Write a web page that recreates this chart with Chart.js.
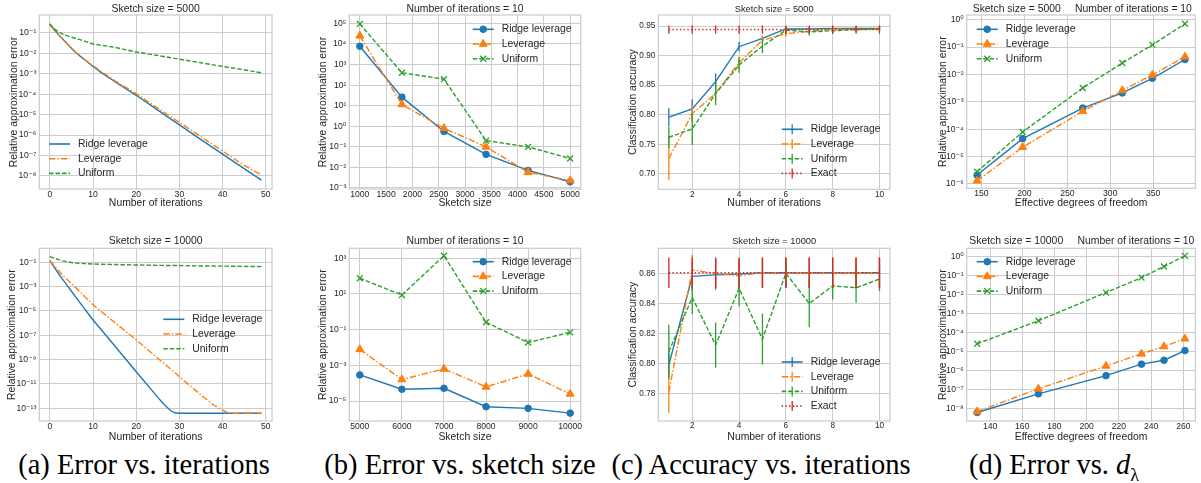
<!DOCTYPE html>
<html>
<head>
<meta charset="UTF-8">
<title>Sketching: error and accuracy</title>
<script src="https://cdn.jsdelivr.net/npm/chart.js"></script>
<style>
  body { margin: 0; background: #fff; width: 1201px; height: 483px; overflow: hidden; position: relative; }
  canvas { position: absolute; }
  .cap { position: absolute; top: 449px; line-height: 32px; font-family: "Liberation Serif", "Times New Roman", serif;
         font-size: 28.5px; color: #000; white-space: nowrap; transform: translateX(-50%); }
  .cap sub { font-size: 18px; }
</style>
</head>
<body>
<div class="cap" style="left:144px">(a) Error vs. iterations</div>
<div class="cap" style="left:460px">(b) Error vs. sketch size</div>
<div class="cap" style="left:761px">(c) Accuracy vs. iterations</div>
<div class="cap" style="left:1054px">(d) Error vs. <i>d</i><sub>λ</sub></div>

<script>
// ---------- data ----------

// (a) relative error vs iteration
const itersA5000 = [0, 1, 2, 3, 4, 5, 6, 7, 8, 10, 12, 15, 20, 25, 30, 35, 40, 45, 49];
const ridgeA5000 = [2.8e-1, 1.45e-1, 8.3e-2, 5.0e-2, 3.0e-2, 1.8e-2, 1.12e-2, 7.4e-3, 5.0e-3, 2.3e-3, 1.12e-3, 4.2e-4, 8.9e-5, 1.66e-5, 3.2e-6, 6.0e-7, 1.17e-7, 2.3e-8, 6.3e-9];
const leverA5000 = [2.5e-1, 1.38e-1, 7.9e-2, 4.8e-2, 2.95e-2, 1.8e-2, 1.15e-2, 7.6e-3, 5.2e-3, 2.5e-3, 1.26e-3, 4.7e-4, 1.07e-4, 2.1e-5, 4.2e-6, 8.3e-7, 1.66e-7, 3.3e-8, 1.12e-8];
const unifA5000  = [2.8e-1, 1.58e-1, 1.12e-1, 8.7e-2, 7.2e-2, 6.2e-2, 5.4e-2, 4.7e-2, 4.0e-2, 2.9e-2, 2.5e-2, 2.0e-2, 1.17e-2, 7.9e-3, 5.2e-3, 3.5e-3, 2.3e-3, 1.58e-3, 1.12e-3];

const itersA10000 = [0, 1, 2, 3, 4, 5, 6, 8, 10, 12, 15, 20, 25, 26, 27, 28, 29, 30, 35, 38, 40, 41, 42, 43, 45, 49];
const ridgeA10000 = [1.38e-1, 3.98e-2, 1.2e-2, 3.8e-3, 1.26e-3, 4.2e-4, 1.38e-4, 1.58e-5, 1.82e-6, 2.57e-7, 1.38e-8, 1.02e-10, 7.9e-13, 3.2e-13, 1.32e-13, 6.3e-14, 4.3e-14, 3.9e-14, 3.9e-14, 3.9e-14, 3.9e-14, 3.9e-14, 3.9e-14, 3.9e-14, 3.9e-14, 3.9e-14];
const leverA10000 = [1.38e-1, 5.2e-2, 2.1e-2, 8.7e-3, 3.8e-3, 1.74e-3, 8.3e-4, 1.58e-4, 3.2e-5, 8.3e-6, 1.15e-6, 4.2e-8, 1.32e-9, 6.6e-10, 3.3e-10, 1.66e-10, 8.3e-11, 4.0e-11, 1.26e-12, 1.78e-13, 7.1e-14, 4.8e-14, 4.0e-14, 3.9e-14, 3.9e-14, 3.9e-14];
const unifA10000  = [2.95e-1, 2.19e-1, 1.66e-1, 1.32e-1, 1.1e-1, 9.5e-2, 8.7e-2, 7.8e-2, 7.2e-2, 6.9e-2, 6.5e-2, 6.0e-2, 5.6e-2, 5.6e-2, 5.5e-2, 5.5e-2, 5.4e-2, 5.4e-2, 5.0e-2, 4.9e-2, 4.8e-2, 4.8e-2, 4.7e-2, 4.7e-2, 4.6e-2, 4.4e-2];

// (b) relative error vs sketch size, 10 iterations
const sizesB1 = [1000, 1800, 2600, 3400, 4200, 5000];
const ridgeB1 = [7.8e3, 26, 0.56, 0.043, 7.1e-3, 2.0e-3];
const leverB1 = [2.5e4, 11.5, 0.8, 0.1, 5.8e-3, 2.3e-3];
const unifB1  = [9.5e4, 400, 195, 0.2, 0.1, 0.027];

const sizesB2 = [5000, 6000, 7000, 8000, 9000, 10000];
const ridgeB2 = [2.9e-4, 4.6e-5, 5.2e-5, 4.8e-6, 3.9e-6, 2.1e-6];
const leverB2 = [7.9e-3, 1.6e-4, 6.3e-4, 6.2e-5, 3.3e-4, 2.5e-5];
const unifB2  = [76, 8.7, 1400, 0.26, 0.019, 0.071];

// (c) classification accuracy vs iteration (mean and error bar half-length)
const itersC = [1, 2, 3, 4, 5, 6, 7, 8, 9, 10];
const ridgeC1 = [0.796, 0.810, 0.856, 0.915, 0.929, 0.945, 0.945, 0.946, 0.946, 0.946];
const ridgeC1Err = [0.015, 0.016, 0.014, 0.008, 0.004, 0.003, 0.003, 0.003, 0.003, 0.003];
const leverC1 = [0.726, 0.802, 0.836, 0.888, 0.926, 0.937, 0.941, 0.945, 0.944, 0.945];
const leverC1Err = [0.036, 0.015, 0.012, 0.010, 0.008, 0.005, 0.004, 0.003, 0.003, 0.003];
const unifC1 = [0.762, 0.776, 0.836, 0.884, 0.916, 0.943, 0.940, 0.942, 0.944, 0.945];
const unifC1Err = [0.018, 0.027, 0.020, 0.013, 0.012, 0.006, 0.006, 0.005, 0.004, 0.004];
const exactC1 = [0.944, 0.944, 0.944, 0.944, 0.944, 0.944, 0.944, 0.944, 0.944, 0.944];
const exactC1Err = [0.007, 0.007, 0.007, 0.007, 0.007, 0.007, 0.007, 0.007, 0.007, 0.007];

const ridgeC2 = [0.799, 0.858, 0.859, 0.8596, 0.8604, 0.8604, 0.8604, 0.8604, 0.8604, 0.8604];
const ridgeC2Err = [0.008, 0.010, 0.010, 0.010, 0.010, 0.010, 0.010, 0.010, 0.010, 0.010];
const leverC2 = [0.781, 0.8622, 0.860, 0.8584, 0.8604, 0.8604, 0.8604, 0.8604, 0.8604, 0.8604];
const leverC2Err = [0.014, 0.010, 0.010, 0.010, 0.010, 0.010, 0.010, 0.010, 0.010, 0.010];
const unifC2 = [0.8078, 0.8438, 0.8122, 0.850, 0.8162, 0.860, 0.840, 0.8516, 0.8504, 0.8562];
const unifC2Err = [0.018, 0.011, 0.015, 0.012, 0.017, 0.009, 0.016, 0.009, 0.010, 0.008];
const exactC2 = [0.8604, 0.8604, 0.8604, 0.8604, 0.8604, 0.8604, 0.8604, 0.8604, 0.8604, 0.8604];
const exactC2Err = [0.0102, 0.0102, 0.0102, 0.0102, 0.0102, 0.0102, 0.0102, 0.0102, 0.0102, 0.0102];

// (d) relative error vs effective degrees of freedom
const dofD1 = [145, 198, 268, 314, 349, 387];
const ridgeD1 = [2.1e-6, 4.5e-5, 5.9e-4, 2.1e-3, 7.2e-3, 3.5e-2];
const leverD1 = [1.3e-6, 2.2e-5, 4.5e-4, 2.6e-3, 9.6e-3, 4.4e-2];
const unifD1  = [2.8e-6, 7.9e-5, 3.2e-3, 2.6e-2, 1.2e-1, 7.1e-1];

const dofD2 = [132, 170, 212, 234, 248, 261];
const ridgeD2 = [5.9e-9, 5.7e-8, 5.2e-7, 2.1e-6, 3.4e-6, 1.1e-5];
const leverD2 = [6.6e-9, 1.05e-7, 1.7e-6, 7.4e-6, 1.8e-5, 4.6e-5];
const unifD2  = [2.5e-5, 4.1e-4, 1.26e-2, 7.8e-2, 3.0e-1, 1.1];

// tick values
const ticksIterA = [0, 10, 20, 30, 40, 50];
const ticksErrA1 = [1e-1, 1e-2, 1e-3, 1e-4, 1e-5, 1e-6, 1e-7, 1e-8];
const ticksErrA2 = [1e-1, 1e-3, 1e-5, 1e-7, 1e-9, 1e-11, 1e-13];
const ticksSizeB1 = [1000, 1500, 2000, 2500, 3000, 3500, 4000, 4500, 5000];
const ticksErrB1 = [1e5, 1e4, 1e3, 1e2, 1e1, 1e0, 1e-1, 1e-2, 1e-3];
const ticksSizeB2 = [5000, 6000, 7000, 8000, 9000, 10000];
const ticksErrB2 = [1e3, 1e1, 1e-1, 1e-3, 1e-5];
const ticksIterC = [2, 4, 6, 8, 10];
const ticksAccC1 = [0.70, 0.75, 0.80, 0.85, 0.90, 0.95];
const ticksAccC2 = [0.78, 0.80, 0.82, 0.84, 0.86];
const ticksDofD1 = [150, 200, 250, 300, 350];
const ticksErrD1 = [1e0, 1e-1, 1e-2, 1e-3, 1e-4, 1e-5, 1e-6];
const ticksDofD2 = [140, 160, 180, 200, 220, 240, 260];
const ticksErrD2 = [1e0, 1e-1, 1e-2, 1e-3, 1e-4, 1e-5, 1e-6, 1e-7, 1e-8];

// ---------- styling ----------
const FONT = '"Liberation Sans", Arial, "DejaVu Sans", sans-serif';
const INK = '#262626';
const GRID = '#cccccc';
const STYLE = {
  ridge: { label: 'Ridge leverage', color: '#1f77b4', dash: [], marker: 'circle', r: 3.3 },
  lever: { label: 'Leverage', color: '#ff7f0e', dash: [6.5, 2, 1.5, 2], marker: 'triangle', r: 4.6 },
  unif:  { label: 'Uniform', color: '#2ca02c', dash: [4.5, 2], marker: 'crossRot', r: 4.2 },
  exact: { label: 'Exact', color: '#d62728', dash: [1.4, 2.3], marker: 'circle', r: 0 }
};
Chart.defaults.font.family = FONT;
Chart.defaults.color = INK;

const COLS = [[0, 300], [300, 600], [600, 900], [900, 1201]];
const ROWS = [[0, 215], [215, 445]];

const SUP = { '-': '\u207b', '0': '\u2070', '1': '\u00b9', '2': '\u00b2', '3': '\u00b3',
  '4': '\u2074', '5': '\u2075', '6': '\u2076', '7': '\u2077', '8': '\u2078', '9': '\u2079' };
function pow10Label(v) {
  const e = String(Math.round(Math.log10(v)));
  return '10' + e.split('').map(c => SUP[c]).join('');
}

function series(kind, xs, ys, markers, errs, idx) {
  const s = STYLE[kind];
  return {
    label: s.label,
    data: xs.map((x, i) => ({ x: x, y: ys[i] })),
    borderColor: s.color,
    backgroundColor: s.color,
    borderWidth: 1.4,
    borderDash: s.dash,
    pointStyle: s.marker,
    pointRadius: markers ? s.r : 0,
    pointHoverRadius: 0,
    pointBorderWidth: kind === 'unif' ? 1.3 : 1,
    pointBackgroundColor: s.color,
    pointBorderColor: s.color,
    tension: 0,
    order: -idx,
    errors: errs
  };
}

// small marker painter for the legend
function drawMarker(ctx, style, r, x, y, color) {
  ctx.save();
  ctx.fillStyle = color; ctx.strokeStyle = color; ctx.setLineDash([]);
  ctx.beginPath();
  if (style === 'circle') {
    ctx.arc(x, y, r, 0, Math.PI * 2); ctx.fill(); ctx.lineWidth = 1; ctx.stroke();
  } else if (style === 'triangle') {
    for (let k = 0; k < 3; k++) {
      const a = k * 2 * Math.PI / 3;
      const px = x + Math.sin(a) * r, py = y - Math.cos(a) * r;
      if (k === 0) ctx.moveTo(px, py); else ctx.lineTo(px, py);
    }
    ctx.closePath(); ctx.fill(); ctx.lineWidth = 1; ctx.stroke();
  } else if (style === 'crossRot') {
    const d = Math.cos(Math.PI / 4) * r;
    ctx.moveTo(x - d, y - d); ctx.lineTo(x + d, y + d);
    ctx.moveTo(x + d, y - d); ctx.lineTo(x - d, y + d);
    ctx.lineWidth = 1.3; ctx.stroke();
  }
  ctx.restore();
}

// frame, titles and in-axes legend
const panelDecor = {
  id: 'panelDecor',
  beforeDatasetsDraw(chart, args, o) {
    const a = chart.chartArea, ctx = chart.ctx;
    ctx.save();
    ctx.strokeStyle = GRID; ctx.lineWidth = 1.25;
    ctx.strokeRect(a.left, a.top, a.right - a.left, a.bottom - a.top);
    ctx.restore();
  },
  afterDraw(chart, args, o) {
    const a = chart.chartArea, ctx = chart.ctx;
    ctx.save();
    ctx.fillStyle = INK;
    ctx.textBaseline = 'middle';
    ctx.font = o.titleSize + 'px ' + FONT;
    if (o.title) { ctx.textAlign = 'center'; ctx.fillText(o.title, (a.left + a.right) / 2, o.titleY); }
    if (o.titleLeft) { ctx.textAlign = 'left'; ctx.fillText(o.titleLeft, a.left + o.leftInset, o.titleY); }
    if (o.titleRight) { ctx.textAlign = 'right'; ctx.fillText(o.titleRight, a.right - o.rightInset, o.titleY); }

    const lg = o.legend;
    ctx.font = '10.4px ' + FONT;
    ctx.textAlign = 'left';
    chart.data.datasets.forEach((ds, i) => {
      const y = lg.y + i * 14.7;
      ctx.strokeStyle = ds.borderColor; ctx.lineWidth = 1.6;
      ctx.setLineDash(ds.borderDash);
      ctx.beginPath(); ctx.moveTo(lg.x, y); ctx.lineTo(lg.x + 21, y); ctx.stroke();
      ctx.setLineDash([]);
      if (lg.mode === 'marker') drawMarker(ctx, ds.pointStyle, ds.pointRadius, lg.x + 10.5, y, ds.borderColor);
      if (lg.mode === 'errorbar') {
        ctx.lineWidth = 1.3;
        ctx.beginPath(); ctx.moveTo(lg.x + 10.5, y - 5); ctx.lineTo(lg.x + 10.5, y + 5); ctx.stroke();
      }
      ctx.fillStyle = INK;
      ctx.fillText(ds.label, lg.x + 29, y);
    });
    ctx.restore();
  }
};

// vertical error bars drawn through the library's scales
const errorBars = {
  id: 'errorBars',
  afterDatasetDraw(chart, args) {
    const ds = chart.data.datasets[args.index];
    if (!ds.errors) return;
    const ctx = chart.ctx, xs = chart.scales.x, ys = chart.scales.y;
    ctx.save();
    ctx.strokeStyle = ds.borderColor; ctx.lineWidth = 1.3;
    ds.data.forEach((p, i) => {
      const px = xs.getPixelForValue(p.x);
      ctx.beginPath();
      ctx.moveTo(px, ys.getPixelForValue(p.y - ds.errors[i]));
      ctx.lineTo(px, ys.getPixelForValue(p.y + ds.errors[i]));
      ctx.stroke();
    });
    ctx.restore();
  }
};

function makePanel(p) {
  const [cx0, cx1] = COLS[p.col], [ry0, ry1] = ROWS[p.row];
  const W = cx1 - cx0, H = ry1 - ry0;
  const cv = document.createElement('canvas');
  cv.width = W; cv.height = H;
  cv.style.left = cx0 + 'px'; cv.style.top = ry0 + 'px';
  cv.style.width = W + 'px'; cv.style.height = H + 'px';
  document.body.appendChild(cv);

  const [L, T, R, B] = p.box;
  const yW = L - cx0;
  const xH = (p.xTitleY - ry0) + 6.24 - (B - ry0);
  const padBottom = H - (B - ry0) - xH;
  const tickFont = { size: p.tickSize || 8.6, lineHeight: 1 };
  const titleFont = { size: 10.4, lineHeight: 1.2 };

  new Chart(cv, {
    type: 'line',
    data: { datasets: p.datasets },
    plugins: [panelDecor, errorBars],
    options: {
      responsive: false,
      animation: false,
      events: [],
      layout: { padding: { left: 0, top: T - ry0, right: cx1 - R, bottom: padBottom } },
      scales: {
        x: {
          type: 'linear', position: 'bottom', min: p.xMin, max: p.xMax, bounds: 'data',
          afterBuildTicks: s => { s.ticks = p.xTicks.map(v => ({ value: v })); },
          afterFit: s => { s.height = xH; },
          ticks: { padding: 1, font: tickFont, color: INK, autoSkip: false, maxRotation: 0,
                   callback: v => String(v) },
          grid: { color: GRID, lineWidth: 1, drawTicks: false },
          border: { display: false },
          title: { display: true, text: p.xTitle, font: titleFont, color: INK, padding: { top: 0, bottom: 0 } }
        },
        y: {
          type: p.yLog ? 'logarithmic' : 'linear', position: 'left', min: p.yMin, max: p.yMax, bounds: 'data',
          afterBuildTicks: s => { s.ticks = p.yTicks.map(v => ({ value: v })); },
          afterFit: s => { s.width = yW; },
          ticks: { padding: 3, font: tickFont, color: INK, autoSkip: false,
                   callback: v => p.yLog ? pow10Label(v) : Number(v).toFixed(2) },
          grid: { color: GRID, lineWidth: 1, drawTicks: false },
          border: { display: false },
          title: { display: true, text: p.yTitle, font: titleFont, color: INK,
                   padding: { top: p.yTitleX - cx0 - 6.24, bottom: 0 } }
        }
      },
      plugins: {
        legend: { display: false },
        title: { display: false },
        tooltip: { enabled: false },
        panelDecor: Object.assign({ titleSize: 10.4, titleY: p.titleY - ry0, leftInset: 0, rightInset: 0 }, p.decor)
      }
    }
  });
}

const ERR = 'Relative approximation error';
const ACC = 'Classification accuracy';
const ITER = 'Number of iterations';
const DOF = 'Effective degrees of freedom';

// (a)
makePanel({
  col: 0, row: 0, box: [39.3, 15, 272, 189], yTitleX: 14, xTitleY: 203.3, titleY: 9,
  xTitle: ITER, yTitle: ERR, xMin: -2.45, xMax: 51.45, xTicks: ticksIterA,
  yLog: true, yMin: 2.3e-9, yMax: 0.76, yTicks: ticksErrA1,
  decor: { title: 'Sketch size = 5000', legend: { x: 49, y: 144, mode: 'line' } },
  datasets: [
    series('ridge', itersA5000, ridgeA5000, false, null, 0),
    series('lever', itersA5000, leverA5000, false, null, 1),
    series('unif', itersA5000, unifA5000, false, null, 2)
  ]
});
makePanel({
  col: 0, row: 1, box: [39.3, 248.3, 272, 421], yTitleX: 11.7, xTitleY: 437, titleY: 241,
  xTitle: ITER, yTitle: ERR, xMin: -2.45, xMax: 51.45, xTicks: ticksIterA,
  yLog: true, yMin: 9.1e-15, yMax: 1.41, yTicks: ticksErrA2,
  decor: { title: 'Sketch size = 10000', legend: { x: 163.3, y: 104.3, mode: 'line' } },
  datasets: [
    series('ridge', itersA10000, ridgeA10000, false, null, 0),
    series('lever', itersA10000, leverA10000, false, null, 1),
    series('unif', itersA10000, unifA10000, false, null, 2)
  ]
});

// (b)
makePanel({
  col: 1, row: 0, box: [349.3, 15, 580.7, 189], yTitleX: 323.3, xTitleY: 203.3, titleY: 9,
  xTitle: 'Sketch size', yTitle: ERR, xMin: 800, xMax: 5200, xTicks: ticksSizeB1,
  yLog: true, yMin: 8.9e-4, yMax: 2.57e5, yTicks: ticksErrB1,
  decor: { title: 'Number of iterations = 10', legend: { x: 172.7, y: 29.3, mode: 'marker' } },
  datasets: [
    series('ridge', sizesB1, ridgeB1, true, null, 0),
    series('lever', sizesB1, leverB1, true, null, 1),
    series('unif', sizesB1, unifB1, true, null, 2)
  ]
});
makePanel({
  col: 1, row: 1, box: [349.3, 248.3, 580.7, 421], yTitleX: 323.3, xTitleY: 437, titleY: 241,
  xTitle: 'Sketch size', yTitle: ERR, xMin: 4750, xMax: 10250, xTicks: ticksSizeB2,
  yLog: true, yMin: 7.6e-7, yMax: 3630, yTicks: ticksErrB2,
  decor: { title: 'Number of iterations = 10', legend: { x: 172.7, y: 46.7, mode: 'marker' } },
  datasets: [
    series('ridge', sizesB2, ridgeB2, true, null, 0),
    series('lever', sizesB2, leverB2, true, null, 1),
    series('unif', sizesB2, unifB2, true, null, 2)
  ]
});

// (c)
makePanel({
  col: 2, row: 0, box: [658.3, 15, 890, 189.3], yTitleX: 633.3, xTitleY: 203.3, titleY: 9, tickSize: 8.2,
  xTitle: ITER, yTitle: ACC, xMin: 0.55, xMax: 10.45, xTicks: ticksIterC,
  yLog: false, yMin: 0.674, yMax: 0.9686, yTicks: ticksAccC1,
  decor: { title: 'Sketch size = 5000', titleSize: 9.3, legend: { x: 181.7, y: 129.3, mode: 'errorbar' } },
  datasets: [
    series('ridge', itersC, ridgeC1, false, ridgeC1Err, 0),
    series('lever', itersC, leverC1, false, leverC1Err, 1),
    series('unif', itersC, unifC1, false, unifC1Err, 2),
    series('exact', itersC, exactC1, false, exactC1Err, 3)
  ]
});
makePanel({
  col: 2, row: 1, box: [658.3, 248.3, 890, 421], yTitleX: 633.3, xTitleY: 437, titleY: 241, tickSize: 8.2,
  xTitle: ITER, yTitle: ACC, xMin: 0.55, xMax: 10.45, xTicks: ticksIterC,
  yLog: false, yMin: 0.7616, yMax: 0.8767, yTicks: ticksAccC2,
  decor: { title: 'Sketch size = 10000', titleSize: 9.3, legend: { x: 181.7, y: 147, mode: 'errorbar' } },
  datasets: [
    series('ridge', itersC, ridgeC2, false, ridgeC2Err, 0),
    series('lever', itersC, leverC2, false, leverC2Err, 1),
    series('unif', itersC, unifC2, false, unifC2Err, 2),
    series('exact', itersC, exactC2, false, exactC2Err, 3)
  ]
});

// (d)
makePanel({
  col: 3, row: 0, box: [966.7, 15, 1197.7, 188.3], yTitleX: 942.7, xTitleY: 203.3, titleY: 9,
  xTitle: DOF, yTitle: ERR, xMin: 132.9, xMax: 399.1, xTicks: ticksDofD1,
  yLog: true, yMin: 6.9e-7, yMax: 1.48, yTicks: ticksErrD1,
  decor: { titleLeft: 'Sketch size = 5000', titleRight: 'Number of iterations = 10', leftInset: 6, rightInset: 3.5,
           legend: { x: 76.7, y: 29.3, mode: 'marker' } },
  datasets: [
    series('ridge', dofD1, ridgeD1, true, null, 0),
    series('lever', dofD1, leverD1, true, null, 1),
    series('unif', dofD1, unifD1, true, null, 2)
  ]
});
makePanel({
  col: 3, row: 1, box: [966.7, 248.3, 1197.7, 421], yTitleX: 942.7, xTitleY: 437, titleY: 241,
  xTitle: DOF, yTitle: ERR, xMin: 125.5, xMax: 267.5, xTicks: ticksDofD2,
  yLog: true, yMin: 2.1e-9, yMax: 2.75, yTicks: ticksErrD2,
  decor: { titleLeft: 'Sketch size = 10000', titleRight: 'Number of iterations = 10', leftInset: 2.6, rightInset: 1,
           legend: { x: 76.7, y: 46.7, mode: 'marker' } },
  datasets: [
    series('ridge', dofD2, ridgeD2, true, null, 0),
    series('lever', dofD2, leverD2, true, null, 1),
    series('unif', dofD2, unifD2, true, null, 2)
  ]
});
</script>
</body>
</html>
